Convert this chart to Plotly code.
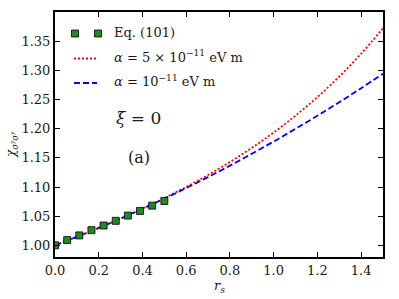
import plotly.graph_objects as go

# Data
eq_x = [0.0, 0.0556, 0.1111, 0.1667, 0.2222, 0.2778, 0.3333, 0.3889, 0.4444, 0.5]
eq_y = [1.000, 1.009, 1.017, 1.026, 1.034, 1.042, 1.051, 1.059, 1.068, 1.076]

curve_x = [0.0, 0.1, 0.2, 0.3, 0.4, 0.5, 0.6, 0.7, 0.8, 0.9, 1.0, 1.1, 1.2, 1.3, 1.4, 1.5]
red_y = [1.000, 1.0146, 1.0298, 1.0459, 1.0630, 1.0810, 1.1002, 1.1207, 1.1429, 1.1671,
         1.1934, 1.2224, 1.2541, 1.2894, 1.3286, 1.3720]
blue_y = [1.000, 1.0146, 1.0298, 1.0458, 1.0626, 1.0800, 1.0982, 1.1170, 1.1366, 1.1570,
          1.1780, 1.1998, 1.2222, 1.2454, 1.2694, 1.2940]

x_ticks = [0.0, 0.2, 0.4, 0.6, 0.8, 1.0, 1.2, 1.4]
y_ticks = [1.00, 1.05, 1.10, 1.15, 1.20, 1.25, 1.30, 1.35]

labels = ["Eq. (101)", "<i>α</i> = 5 × 10<sup>−11</sup> eV m", "<i>α</i> = 10<sup>−11</sup> eV m"]
x_title = "<i>r</i><sub><i>s</i></sub>"
y_title = "<i>χ</i><sub><i>σ</i><sup><i>y</i></sup><i>σ</i><sup><i>y</i></sup></sub>"

FONT = "DejaVu Serif"
TXT = "#1a1a1a"
X_RANGE = [0, 1.5]
Y_RANGE = [0.98, 1.40]
fig = go.Figure()

fig.add_trace(go.Scatter(x=curve_x, y=red_y, mode="lines", line=dict(color="red", width=1.8, dash="2px,2px", shape="spline"),
                         showlegend=False, hoverinfo="skip"))
fig.add_trace(go.Scatter(x=curve_x, y=blue_y, mode="lines", line=dict(color="blue", width=1.8, dash="6px,3px", shape="spline"),
                         showlegend=False, hoverinfo="skip"))
fig.add_trace(go.Scatter(x=eq_x, y=eq_y, mode="markers",
                         marker=dict(symbol="square", size=7, color="#1f8a1f", line=dict(color="black", width=0.8)),
                         showlegend=False, hoverinfo="skip"))

# pixel helpers (plot area: left 55, top 12, 328 x 245 px)
pw, ph = 328.0, 245.0
def px_x(px):
    return (px - 55) / pw
def px_y(py):
    return 1 - (py - 12) / ph
def dx(px):
    return X_RANGE[0] + px_x(px) * (X_RANGE[1] - X_RANGE[0])
def dy(py):
    return Y_RANGE[0] + px_y(py) * (Y_RANGE[1] - Y_RANGE[0])

# Custom legend (matplotlib-style, two markers per entry)
rows = [33.5, 58.5, 83]
for mx in [75, 98]:
    fig.add_shape(type="rect", xref="paper", yref="paper", xsizemode="pixel", ysizemode="pixel",
                  xanchor=px_x(mx), yanchor=px_y(rows[0]), x0=-3.5, x1=3.5, y0=-3.5, y1=3.5,
                  fillcolor="#1f8a1f", line=dict(color="black", width=0.8))
fig.add_shape(type="line", xref="paper", yref="paper", x0=px_x(74), x1=px_x(97), y0=px_y(rows[1]), y1=px_y(rows[1]),
              line=dict(color="red", width=1.8, dash="2px,2px"))
fig.add_shape(type="line", xref="paper", yref="paper", x0=px_x(74), x1=px_x(97), y0=px_y(rows[2]), y1=px_y(rows[2]),
              line=dict(color="blue", width=1.8, dash="6px,3px"))
fig.add_trace(go.Scatter(x=[dx(114)] * 3, y=[dy(r) for r in rows], mode="text", text=labels,
                         textposition="middle right", textfont=dict(family=FONT, size=13, color=TXT),
                         cliponaxis=False, showlegend=False, hoverinfo="skip"))

fig.add_annotation(x=0.384, y=1.218, text="<i>ξ</i> = 0", showarrow=False,
                   font=dict(family=FONT, size=17, color=TXT))
fig.add_annotation(x=0.384, y=1.151, text="(a)", showarrow=False,
                   font=dict(family=FONT, size=16, color=TXT))

# axis titles as annotations
fig.add_annotation(xref="paper", yref="paper", x=px_x(219), y=px_y(286), text=x_title, showarrow=False,
                   xanchor="center", yanchor="middle", font=dict(family=FONT, size=13, color=TXT))
fig.add_annotation(xref="paper", yref="paper", x=px_x(12), y=px_y(145), text=y_title, showarrow=False,
                   textangle=-90, xanchor="center", yanchor="middle", font=dict(family=FONT, size=12, color=TXT))

axis_common = dict(showline=True, linecolor="black", linewidth=2, mirror="ticks", ticks="inside",
                   ticklen=5, tickwidth=1, tickcolor="black", showgrid=False, zeroline=False,
                   automargin=False, tickfont=dict(family=FONT, size=13, color=TXT))
fig.update_xaxes(range=X_RANGE, tickvals=x_ticks, ticktext=[f"{v:.1f}" for v in x_ticks], **axis_common)
fig.update_yaxes(range=Y_RANGE, tickvals=y_ticks, ticktext=[f"{v:.2f}" for v in y_ticks], **axis_common)

fig.update_layout(width=399, height=299, margin=dict(l=55, r=16, t=12, b=42),
                  font=dict(family=FONT), hovermode=False,
                  plot_bgcolor="white", paper_bgcolor="white", showlegend=False)

fig.write_html("out.html", config={"displayModeBar": False, "staticPlot": True},
               post_script="document.body.style.margin='0px';")
